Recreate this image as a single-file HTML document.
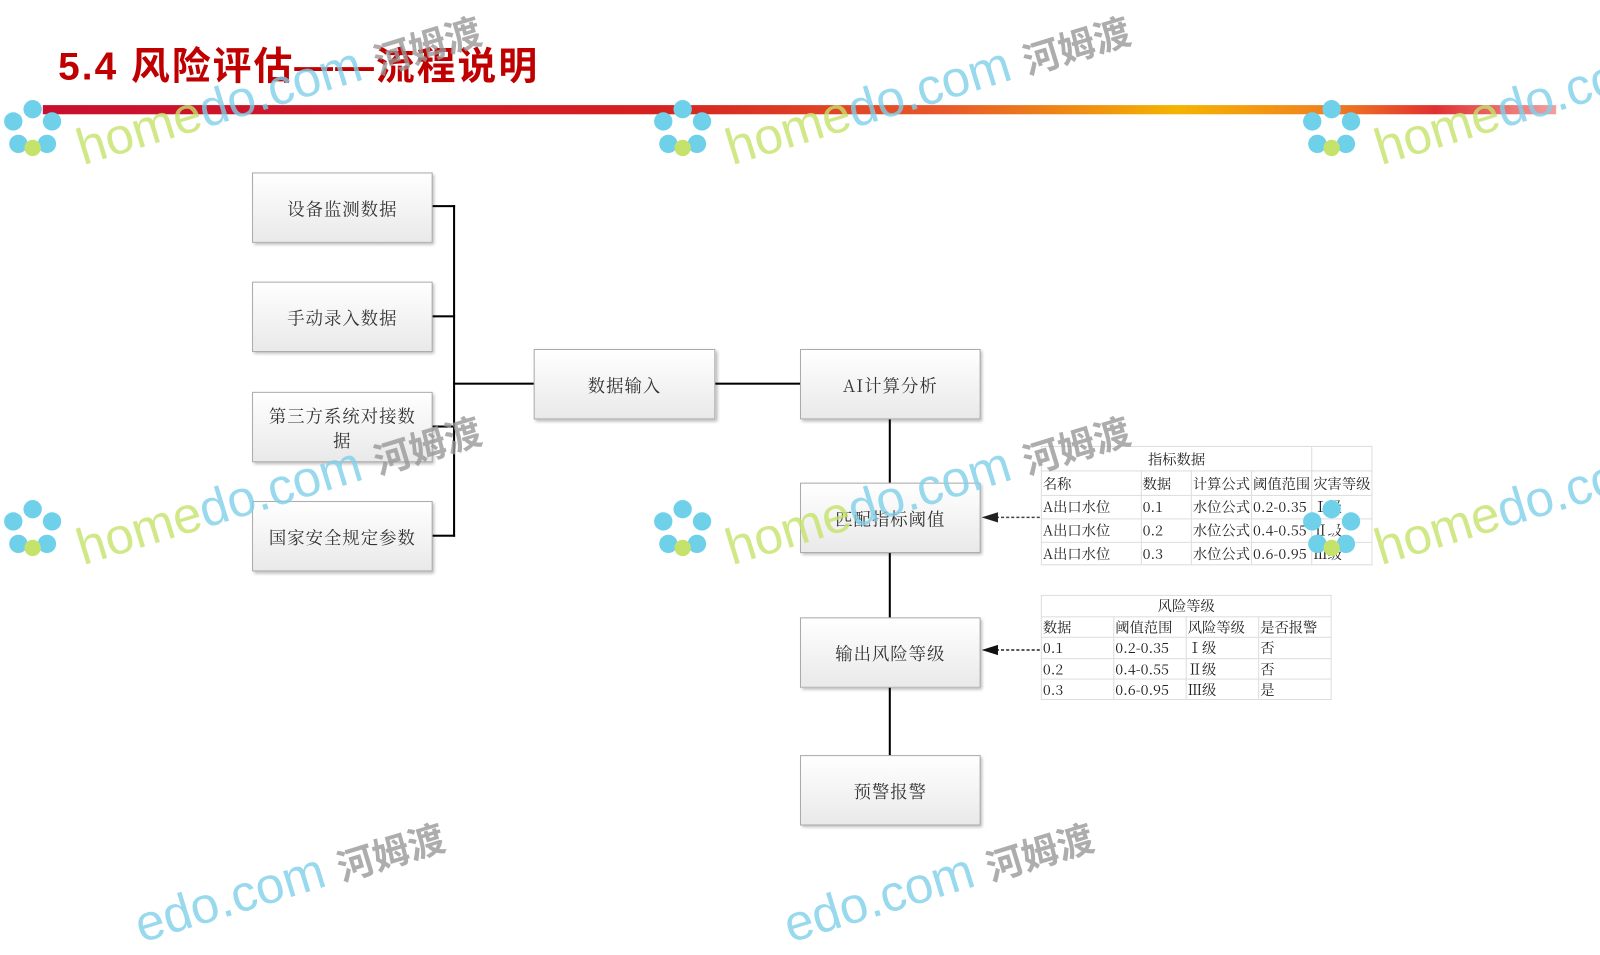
<!DOCTYPE html>
<html><head><meta charset="utf-8"><style>
html,body{margin:0;padding:0;width:1600px;height:900px;overflow:hidden;background:#fff}
#w{position:absolute;left:0;top:0;width:1568px;height:882px;transform:scale(1.020408);transform-origin:0 0;font-family:"Liberation Sans","Noto Sans CJK SC",sans-serif}
.b{position:absolute;box-sizing:border-box;border:1px solid #aaa;background:linear-gradient(#fff,#e9e9e9);box-shadow:2px 2px 3px #bbb;display:flex;align-items:center;justify-content:center;text-align:center;font-size:17px;color:#333;font-family:"Noto Serif CJK SC",serif;letter-spacing:1px;line-height:24px;padding:0 12px}
.l{position:absolute;background:#000}
.t{position:absolute;border-collapse:collapse;font-family:"Noto Serif CJK SC",serif;font-size:14px;color:#222}
.t td{border:1px solid #ddd;padding:0 1px;white-space:nowrap;overflow:hidden;line-height:18px}
.wm{position:absolute;font-size:50px;font-family:"Liberation Sans",sans-serif;transform:rotate(-17deg);transform-origin:0 0;white-space:nowrap;opacity:.8}
.fl{position:absolute;width:64px;height:64px}
</style></head><body><div id="w">
<div style="position:absolute;left:57px;top:34px;font-size:38px;letter-spacing:2px;font-weight:bold;color:#c00000;font-family:'Liberation Sans','Noto Sans CJK SC',sans-serif">5.4 风险评估——流程说明</div>
<div style="position:absolute;left:42px;top:103px;width:1483px;height:9px;background:linear-gradient(90deg,#c8102e 0%,#d42020 40%,#e85a2a 60%,#f4b400 75%,#f08020 85%,#e03030 92%,#f2a0a0 100%)"></div>

<div class="b" style="left:247px;top:169px;width:177px;height:69px">设备监测数据</div>
<div class="b" style="left:247px;top:276px;width:177px;height:69px">手动录入数据</div>
<div class="b" style="left:247px;top:384px;width:177px;height:69px">第三方系统对接数据</div>
<div class="b" style="left:247px;top:491px;width:177px;height:69px">国家安全规定参数</div>
<div class="b" style="left:523px;top:342px;width:178px;height:69px">数据输入</div>
<div class="b" style="left:784px;top:342px;width:177px;height:69px">AI计算分析</div>
<div class="b" style="left:784px;top:473px;width:177px;height:69px">匹配指标阈值</div>
<div class="b" style="left:784px;top:605px;width:177px;height:69px">输出风险等级</div>
<div class="b" style="left:784px;top:740px;width:177px;height:69px">预警报警</div>

<div class="l" style="left:424px;top:201px;width:22px;height:2px"></div>
<div class="l" style="left:424px;top:309px;width:22px;height:2px"></div>
<div class="l" style="left:424px;top:417px;width:22px;height:2px"></div>
<div class="l" style="left:424px;top:524px;width:22px;height:2px"></div>
<div class="l" style="left:444px;top:201px;width:2px;height:325px"></div>
<div class="l" style="left:444px;top:375px;width:79px;height:2px"></div>
<div class="l" style="left:701px;top:375px;width:83px;height:2px"></div>
<div class="l" style="left:871px;top:411px;width:2px;height:62px"></div>
<div class="l" style="left:871px;top:542px;width:2px;height:63px"></div>
<div class="l" style="left:871px;top:674px;width:2px;height:66px"></div>

<svg style="position:absolute;left:960px;top:495px" width="62" height="155">
<line x1="16" y1="12" x2="60" y2="12" stroke="#444" stroke-width="1.5" stroke-dasharray="3,2"/>
<polygon points="2,12 18,7 18,17" fill="#222"/>
<line x1="16" y1="142" x2="60" y2="142" stroke="#222" stroke-width="1.5" stroke-dasharray="3,2"/>
<polygon points="2,142 18,137 18,147" fill="#111"/>
</svg>

<table class="t" style="left:1020px;top:437px;width:325px">
<tr style="height:24px"><td colspan="4" style="text-align:center">指标数据</td><td></td></tr>
<tr style="height:24px"><td style="width:104px">名称</td><td style="width:52px">数据</td><td style="width:53px">计算公式</td><td style="width:51px">阈值范围</td><td>灾害等级</td></tr>
<tr style="height:23px"><td>A出口水位</td><td>0.1</td><td>水位公式</td><td>0.2-0.35</td><td>Ⅰ级</td></tr>
<tr style="height:23px"><td>A出口水位</td><td>0.2</td><td>水位公式</td><td>0.4-0.55</td><td>Ⅱ级</td></tr>
<tr style="height:22px"><td>A出口水位</td><td>0.3</td><td>水位公式</td><td>0.6-0.95</td><td>Ⅲ级</td></tr>
</table>

<table class="t" style="left:1020px;top:583px;width:285px">
<tr style="height:21px"><td colspan="4" style="text-align:center">风险等级</td></tr>
<tr style="height:20px"><td style="width:68px">数据</td><td style="width:68px">阈值范围</td><td style="width:68px">风险等级</td><td>是否报警</td></tr>
<tr style="height:21px"><td>0.1</td><td>0.2-0.35</td><td>Ⅰ级</td><td>否</td></tr>
<tr style="height:20px"><td>0.2</td><td>0.4-0.55</td><td>Ⅱ级</td><td>否</td></tr>
<tr style="height:20px"><td>0.3</td><td>0.6-0.95</td><td>Ⅲ级</td><td>是</td></tr>
</table>

<svg width="0" height="0" style="position:absolute"><defs><g id="f"><circle cx="32" cy="12" r="9" fill="#6fd0ea"/><circle cx="51" cy="24" r="9" fill="#6fd0ea"/><circle cx="46" cy="46" r="9" fill="#6fd0ea"/><circle cx="18" cy="46" r="9" fill="#6fd0ea"/><circle cx="13" cy="24" r="9" fill="#6fd0ea"/><circle cx="32" cy="50" r="8" fill="#c5e36a"/><circle cx="32" cy="30" r="6" fill="#fff"/></g></defs></svg>
<svg class="fl" style="left:0;top:95px"><use href="#f"/></svg>
<svg class="fl" style="left:637px;top:95px"><use href="#f"/></svg>
<svg class="fl" style="left:1273px;top:95px"><use href="#f"/></svg>
<svg class="fl" style="left:0;top:487px"><use href="#f"/></svg>
<svg class="fl" style="left:637px;top:487px"><use href="#f"/></svg>
<svg class="fl" style="left:1273px;top:487px"><use href="#f"/></svg>

<div class="wm" style="left:68px;top:118px"><span style="color:#c5e36a">home</span><span style="color:#7fd0ea">do.com</span> <span style="color:#999;font-size:36px;font-family:'Noto Sans CJK SC',sans-serif;font-weight:bold">河姆渡</span></div>
<div class="wm" style="left:704px;top:118px"><span style="color:#c5e36a">home</span><span style="color:#7fd0ea">do.com</span> <span style="color:#999;font-size:36px;font-family:'Noto Sans CJK SC',sans-serif;font-weight:bold">河姆渡</span></div>
<div class="wm" style="left:1340px;top:118px"><span style="color:#c5e36a">home</span><span style="color:#7fd0ea">do.co</span></div>
<div class="wm" style="left:68px;top:510px"><span style="color:#c5e36a">home</span><span style="color:#7fd0ea">do.com</span> <span style="color:#999;font-size:36px;font-family:'Noto Sans CJK SC',sans-serif;font-weight:bold">河姆渡</span></div>
<div class="wm" style="left:704px;top:510px"><span style="color:#c5e36a">home</span><span style="color:#7fd0ea">do.com</span> <span style="color:#999;font-size:36px;font-family:'Noto Sans CJK SC',sans-serif;font-weight:bold">河姆渡</span></div>
<div class="wm" style="left:1340px;top:510px"><span style="color:#c5e36a">home</span><span style="color:#7fd0ea">do.co</span></div>
<div class="wm" style="left:125px;top:880px"><span style="color:#7fd0ea">edo.com</span> <span style="color:#999;font-size:36px;font-family:'Noto Sans CJK SC',sans-serif;font-weight:bold">河姆渡</span></div>
<div class="wm" style="left:761px;top:880px"><span style="color:#7fd0ea">edo.com</span> <span style="color:#999;font-size:36px;font-family:'Noto Sans CJK SC',sans-serif;font-weight:bold">河姆渡</span></div>
</div></body></html>
